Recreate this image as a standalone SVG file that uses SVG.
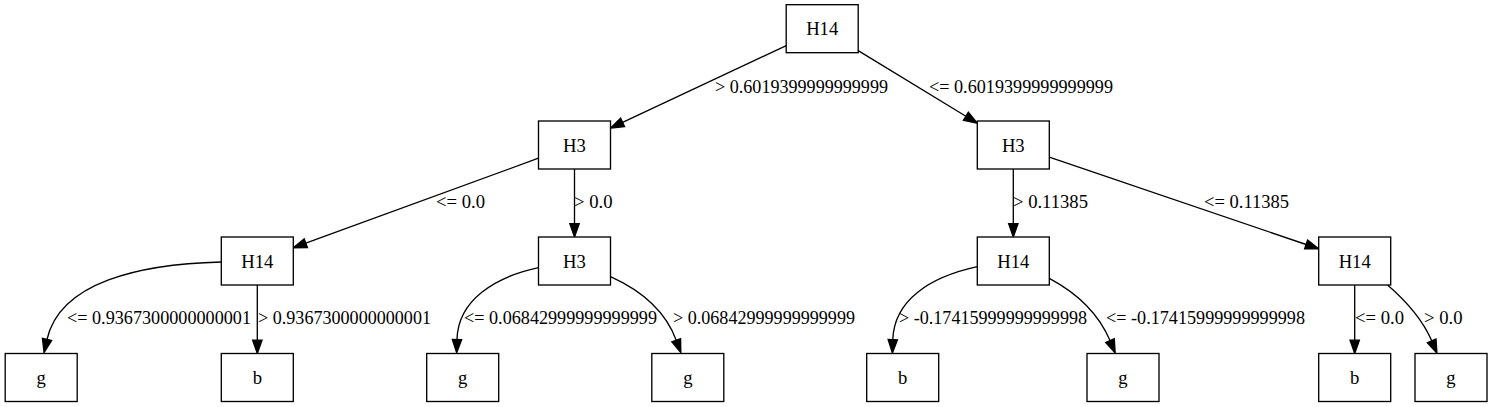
<svg xmlns="http://www.w3.org/2000/svg" width="1492" height="407" viewBox="0 0 1492 407" font-family="'Liberation Serif', 'Times New Roman', Times, serif">
<style>
.node rect{fill:#fff;stroke:#000;stroke-width:1.33}
.node text{font-family:'Liberation Serif','Times New Roman',Times,serif;font-size:18.67px;text-anchor:middle;fill:#000}
.edges path{fill:none;stroke:#000;stroke-width:1.33;marker-end:url(#arr)}
.edges text{font-family:'Liberation Serif','Times New Roman',Times,serif;font-size:18.67px;fill:#000}
</style>
<defs>
<marker id="arr" viewBox="0 0 14 10" refX="0" refY="5" markerWidth="14" markerHeight="10" markerUnits="userSpaceOnUse" orient="auto" overflow="visible">
<path d="M0,0.33 L13.33,5 L0,9.67 z" fill="#000" stroke="#000" stroke-width="1.33"/>
</marker>
</defs>
<rect width="1492" height="407" fill="#fff"/>
<g class="edges" id="edges">
<path d="M786.3,45.6 L622.6,122.4"/>
<text x="715" y="93" textLength="173" lengthAdjust="spacingAndGlyphs">&gt; 0.6019399999999999</text>
<path d="M858.2,50.6 L965.9,116.2"/>
<text x="929" y="93" textLength="184" lengthAdjust="spacingAndGlyphs">&lt;= 0.6019399999999999</text>
<path d="M538.5,158.2 L305.8,243.2"/>
<text x="436" y="208">&lt;= 0.0</text>
<path d="M574.5,169 L574.5,223.7"/>
<text x="574" y="208">&gt; 0.0</text>
<path d="M1013.3,169 L1013.3,223.7"/>
<text x="1013" y="208" textLength="75" lengthAdjust="spacingAndGlyphs">&gt; 0.11385</text>
<path d="M1049.3,157.2 L1306.1,244.5"/>
<text x="1204" y="208" textLength="85" lengthAdjust="spacingAndGlyphs">&lt;= 0.11385</text>
<path d="M221.3,262 C140,264 60,282 47,339.5"/>
<text x="67" y="324" textLength="184" lengthAdjust="spacingAndGlyphs">&lt;= 0.9367300000000001</text>
<path d="M257.3,285 L257.3,340.2"/>
<text x="258" y="324" textLength="173" lengthAdjust="spacingAndGlyphs">&gt; 0.9367300000000001</text>
<path d="M538.5,267.7 C495,277 458,300 457,339.5"/>
<text x="464" y="324" textLength="193" lengthAdjust="spacingAndGlyphs">&lt;= 0.06842999999999999</text>
<path d="M610.5,276.7 C640,290 665,310 676.2,340.2"/>
<text x="673" y="324" textLength="182" lengthAdjust="spacingAndGlyphs">&gt; 0.06842999999999999</text>
<path d="M977.3,266.7 C930,277 894,300 892.8,339.7"/>
<text x="899" y="324" textLength="188" lengthAdjust="spacingAndGlyphs">&gt; -0.17415999999999998</text>
<path d="M1049.3,278.3 C1075,292 1098,312 1110,340.6"/>
<text x="1106" y="324" textLength="199" lengthAdjust="spacingAndGlyphs">&lt;= -0.17415999999999998</text>
<path d="M1354.7,285 L1354.7,340.2"/>
<text x="1355" y="324">&lt;= 0.0</text>
<path d="M1387.3,284.7 C1405,300 1422,318 1431.7,340.8"/>
<text x="1424" y="324">&gt; 0.0</text>
</g>
<g class="node" id="n_root"><rect x="786.2" y="4.7" width="72" height="48"/><text x="822.2" y="35.2">H14</text></g>
<g class="node" id="n_h3l"><rect x="538.5" y="121" width="72" height="48"/><text x="574.5" y="151.5">H3</text></g>
<g class="node" id="n_h3r"><rect x="977.3" y="121" width="72" height="48"/><text x="1013.3" y="151.5">H3</text></g>
<g class="node" id="n_h14a"><rect x="221.3" y="237" width="72" height="48"/><text x="257.3" y="267.5">H14</text></g>
<g class="node" id="n_h3b"><rect x="538.5" y="237" width="72" height="48"/><text x="574.5" y="267.5">H3</text></g>
<g class="node" id="n_h14c"><rect x="977.3" y="237" width="72" height="48"/><text x="1013.3" y="267.5">H14</text></g>
<g class="node" id="n_h14d"><rect x="1318.7" y="237" width="72" height="48"/><text x="1354.7" y="267.5">H14</text></g>
<g class="node" id="n_g1"><rect x="5.2" y="353.5" width="72" height="48"/><text x="41.2" y="384">g</text></g>
<g class="node" id="n_b1"><rect x="221.3" y="353.5" width="72" height="48"/><text x="257.3" y="384">b</text></g>
<g class="node" id="n_g2"><rect x="426.7" y="353.5" width="72" height="48"/><text x="462.7" y="384">g</text></g>
<g class="node" id="n_g3"><rect x="651.8" y="353.5" width="72" height="48"/><text x="687.8" y="384">g</text></g>
<g class="node" id="n_b2"><rect x="866.7" y="353.5" width="72" height="48"/><text x="902.7" y="384">b</text></g>
<g class="node" id="n_g4"><rect x="1087" y="353.5" width="72" height="48"/><text x="1123" y="384">g</text></g>
<g class="node" id="n_b3"><rect x="1318.7" y="353.5" width="72" height="48"/><text x="1354.7" y="384">b</text></g>
<g class="node" id="n_g5"><rect x="1415" y="353.5" width="72" height="48"/><text x="1451" y="384">g</text></g>
</svg>
